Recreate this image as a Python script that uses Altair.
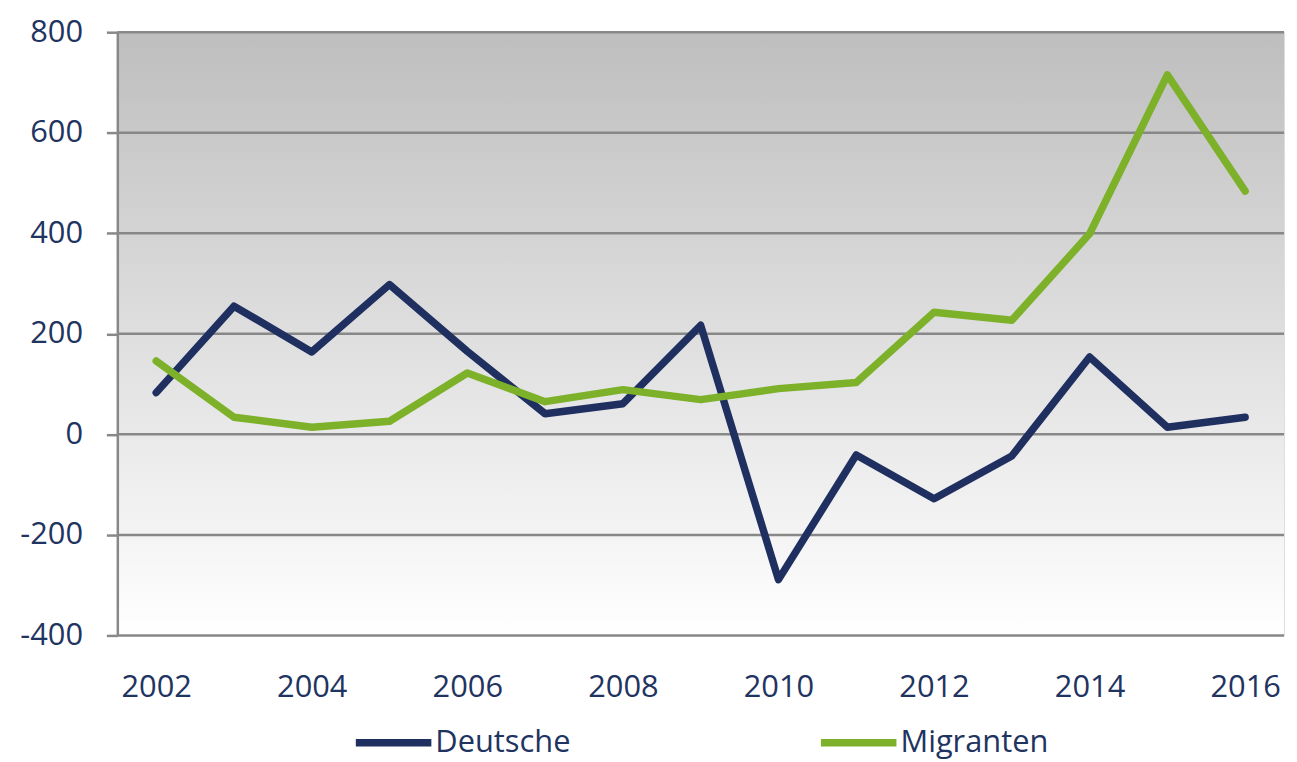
import altair as alt
import pandas as pd

years = list(range(2002, 2017))
deutsche = [83, 255, 164, 298, 165, 41, 61, 217, -289, -41, -128, -43, 154, 14, 34]
migranten = [146, 34, 14, 26, 122, 65, 89, 69, 91, 103, 243, 227, 399, 715, 484]
series_names = ["Deutsche", "Migranten"]
series_colors = ["#1F3060", "#7DB12A"]
x_tick_years = [2002, 2004, 2006, 2008, 2010, 2012, 2014, 2016]
y_ticks = [-400, -200, 0, 200, 400, 600, 800]

df = pd.DataFrame({
    "Jahr": years * 2,
    "Wert": deutsche + migranten,
    "Serie": ["Deutsche"] * len(years) + ["Migranten"] * len(years),
})
grid_df = pd.DataFrame({"Wert": y_ticks})

TXT = "#1F3461"
FONT = "Open Sans"
W, H = 1174, 607

yscale = alt.Scale(domain=[-400, 800], nice=False)

bg = alt.Chart(pd.DataFrame({"a": [0]})).mark_rect(
    fill=alt.LinearGradient(
        gradient="linear", x1=0, y1=0, x2=0, y2=1,
        stops=[alt.GradientStop(offset=0, color="#BEBEBE"),
               alt.GradientStop(offset=1, color="#FFFFFF")]),
).encode(x=alt.value(0), x2=alt.value(W), y=alt.value(0), y2=alt.value(H))

grid = alt.Chart(grid_df).mark_rule(color="#888888", strokeWidth=2.5).encode(
    y=alt.Y("Wert:Q", scale=yscale),
    x=alt.value(0), x2=alt.value(W),
)

lines = alt.Chart(df).mark_line(strokeWidth=7.5, strokeCap="round", strokeJoin="round").encode(
    x=alt.X("Jahr:O", scale=alt.Scale(type="point", padding=0.5),
            axis=alt.Axis(values=x_tick_years, title=None, domain=False, ticks=False,
                          labelAngle=0, labelFont=FONT, labelFontSize=31, labelColor=TXT,
                          labelPadding=37, grid=False)),
    y=alt.Y("Wert:Q", scale=yscale,
            axis=alt.Axis(values=y_ticks, title=None, domain=True, domainColor="#888888",
                          domainWidth=2.5, ticks=True, tickSize=11, tickColor="#888888",
                          tickWidth=2.5, grid=False, zindex=1,
                          labelExpr="datum.value + ''",
                          labelFont=FONT, labelFontSize=31, labelColor=TXT, labelPadding=24)),
    color=alt.Color("Serie:N", scale=alt.Scale(domain=series_names, range=series_colors),
                    legend=alt.Legend(title=None, orient="none", legendX=236, legendY=673,
                                      direction="horizontal", symbolType="stroke",
                                      symbolSize=5776, symbolStrokeWidth=7.5,
                                      labelFont=FONT, labelFontSize=31, labelColor=TXT,
                                      labelOffset=0, columnPadding=236)),
)

chart = alt.layer(bg, grid, lines).properties(
    width=W, height=H,
    autosize=alt.AutoSizeParams(type="none"),
    padding={"left": 110, "top": 22, "right": 5, "bottom": 124},
).configure_view(strokeWidth=0).configure(background="white")

chart.save("out.html", embed_options={"renderer": "svg", "actions": False})
